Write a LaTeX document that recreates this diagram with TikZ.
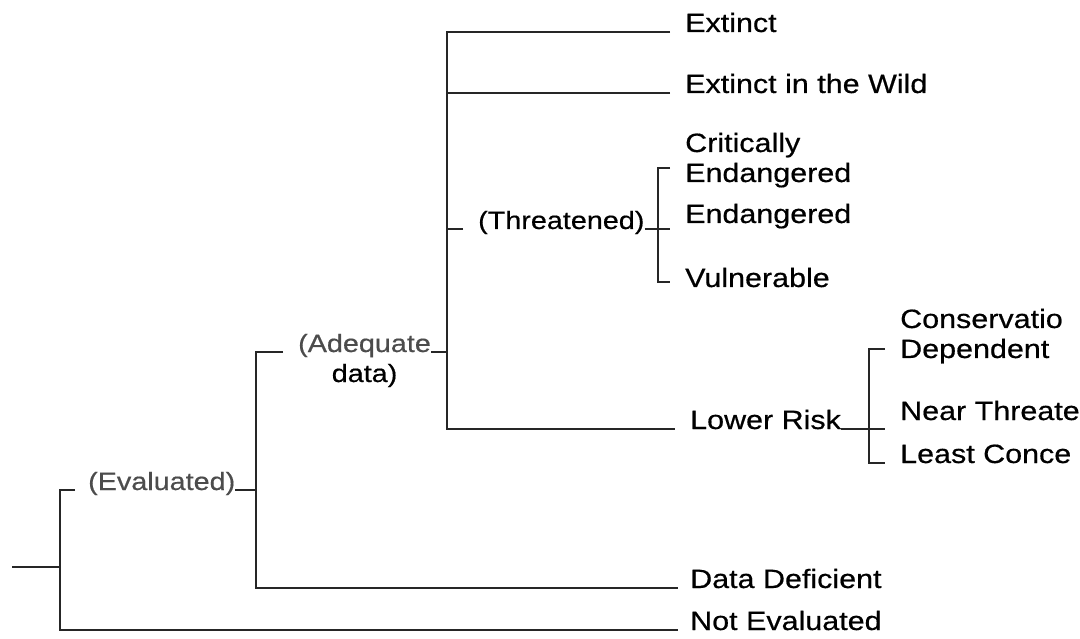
\documentclass[tikz,border=0pt]{standalone}
\usepackage{fontspec}
\setmainfont[FakeStretch=1.15,FakeBold=0.5]{Liberation Sans}
\usepackage{tikz}
\tikzstyle{branch}=[black!85,line width=2.4pt]
\tikzstyle{cat}=[anchor=base west,inner sep=0pt,font=\fontsize{26.5}{30}\selectfont]
\tikzstyle{group}=[anchor=base west,inner sep=0pt,font=\fontsize{25}{30}\selectfont]

\begin{document}
\begin{tikzpicture}[x=1pt,y=-1pt]
	\useasboundingbox (0,0) rectangle (1080,639);

	% categories
	\node[cat] (ex) at (685,32) {Extinct};
	\node[cat] (ew) at (685,93) {Extinct in the Wild};
	\node[cat,align=left] (ce) at (685,182) {Critically\\Endangered};
	\node[cat] (en) at (685,223) {Endangered};
	\node[cat] (vu) at (685,287) {Vulnerable};
	\node[cat] (lr) at (690,429) {Lower Risk};
	\node[cat,align=left] (cd) at (900,358) {Conservatio\\Dependent};
	\node[cat] (nt) at (900,420) {Near Threate};
	\node[cat] (lc) at (900,463) {Least Conce};
	\node[cat] (dd) at (690,588) {Data Deficient};
	\node[cat] (ne) at (690,630) {Not Evaluated};

	% groups
	\node[group,black!70] (evl) at (88,490) {(Evaluated)};
	\node[group,align=center] (adq) at (298,382) {{\color{black!70}(Adequate}\\data)};
	\node[group] (thr) at (478,229) {(Threatened)};

	\coordinate (root) at (12,567);
	\coordinate (evx) at (60,567);
	\coordinate (adx) at (256,490);
	\coordinate (thx) at (447,352);
	\coordinate (thb) at (658,229);
	\coordinate (lrb) at (869,429);

	%tree
	\draw[branch] (root) -- (evx);
	\draw[branch] ([xshift=-13pt]evl.base west) -| (evx) |- ([xshift=-12pt]ne.base west);
	\draw[branch] (evl.base east) -- (adx);
	\draw[branch] ([xshift=-15pt,yshift=30pt]adq.base west) -| (adx) |- ([xshift=-12pt]dd.base west);
	\draw[branch] ([yshift=30pt]adq.base east) -- (thx);
	\draw[branch] ([xshift=-15pt]ex.base west) -| (thx) |- ([xshift=-15pt]lr.base west);
	\draw[branch] ([xshift=-15pt]ew.base west) -- (thx |- ew.base west);
	\draw[branch] ([xshift=-15pt]thr.base west) -- (thx |- thr.base west);

	%brackets
	\draw[branch] ([xshift=-15pt,yshift=14pt]ce.base west) -| (thb) |- ([xshift=-15pt,yshift=5pt]vu.base west);
	\draw[branch] (thr.base east) -- ([xshift=-15pt,yshift=-6pt]en.base west);
	\draw[branch] ([xshift=-15pt,yshift=9pt]cd.base west) -| (lrb) |- ([xshift=-15pt]lc.base west);
	\draw[branch] (lr.base east) -- ([xshift=-15pt,yshift=-9pt]nt.base west);
\end{tikzpicture}
\end{document}
